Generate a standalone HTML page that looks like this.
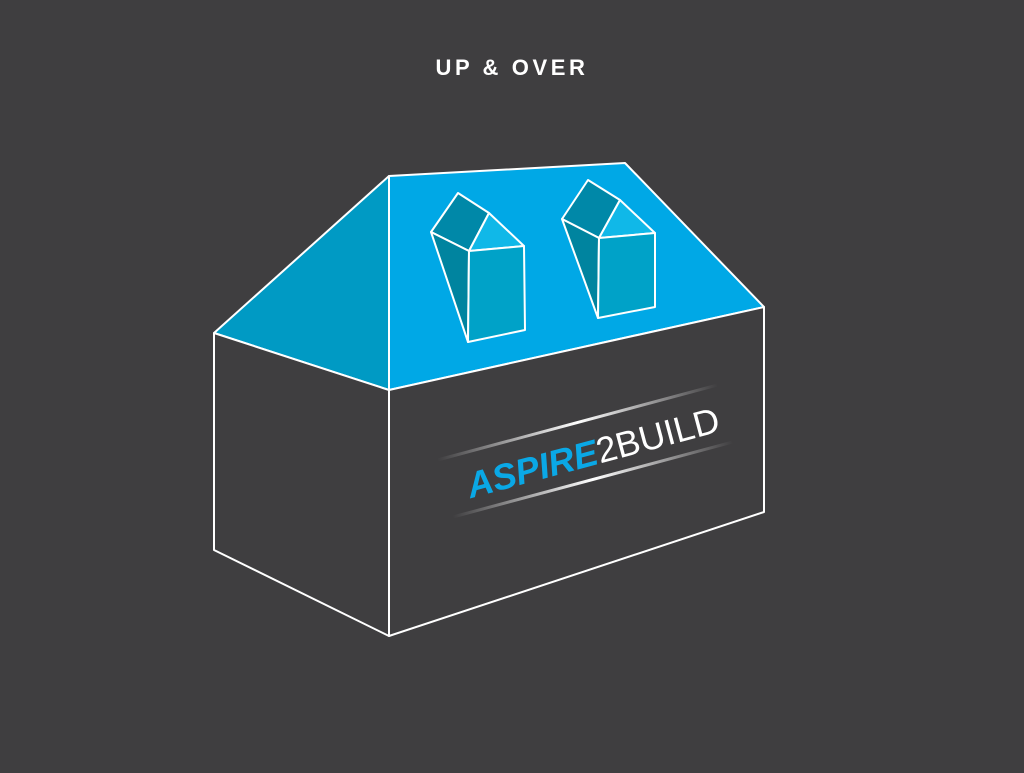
<!DOCTYPE html>
<html><head><style>
body{margin:0;width:1024px;height:768px;background:#3f3e40;overflow:hidden}
</style></head><body>
<svg width="1024" height="768" viewBox="0 0 1024 768" xmlns="http://www.w3.org/2000/svg">
<defs>
<linearGradient id="g" x1="0" x2="1"><stop offset="0" stop-color="#fff" stop-opacity="0"/><stop offset="0.5" stop-color="#fff"/><stop offset="1" stop-color="#fff" stop-opacity="0"/></linearGradient>
</defs>
<text x="512" y="75" text-anchor="middle" fill="#fff" font-family="Liberation Sans, sans-serif" font-weight="bold" font-size="22" letter-spacing="3.6">UP &amp; OVER</text>
<g stroke="#fff" stroke-width="2" stroke-linejoin="round">
<polygon points="214,333 389,176 389,390" fill="#009ac4"/>
<polygon points="389,176 625,163 764,307 389,390" fill="#00a8e6"/>
<polygon points="214,333 389,390 389,636 214,550" fill="#3f3e40"/>
<polygon points="389,390 764,307 764,512 389,636" fill="#3f3e40"/>
<polygon points="458,193 489,213 469,251 431,232" fill="#0088a8"/>
<polygon points="489,213 524,246 469,251" fill="#10b8e8"/>
<polygon points="431,232 469,251 468,342" fill="#00849f"/>
<polygon points="469,251 524,246 525,330 468,342" fill="#00a2c8"/>
<polygon points="588,180 620,200 599,238 562,219" fill="#0088a8"/>
<polygon points="620,200 655,233 599,238" fill="#10b8e8"/>
<polygon points="562,219 599,238 598,318" fill="#00849f"/>
<polygon points="599,238 655,233 655,307 598,318" fill="#00a2c8"/>
</g>
<g transform="rotate(-15 585 450)">
<rect x="440" y="420" width="290" height="3" fill="url(#g)"/>
<rect x="440" y="479" width="290" height="3" fill="url(#g)"/>
<text x="462" y="467" font-family="Liberation Sans, sans-serif" font-size="36"><tspan fill="#0aa8e6" font-weight="bold" font-style="italic">ASPIRE</tspan><tspan fill="#fff">2BUILD</tspan></text>
</g>
</svg>
</body></html>
